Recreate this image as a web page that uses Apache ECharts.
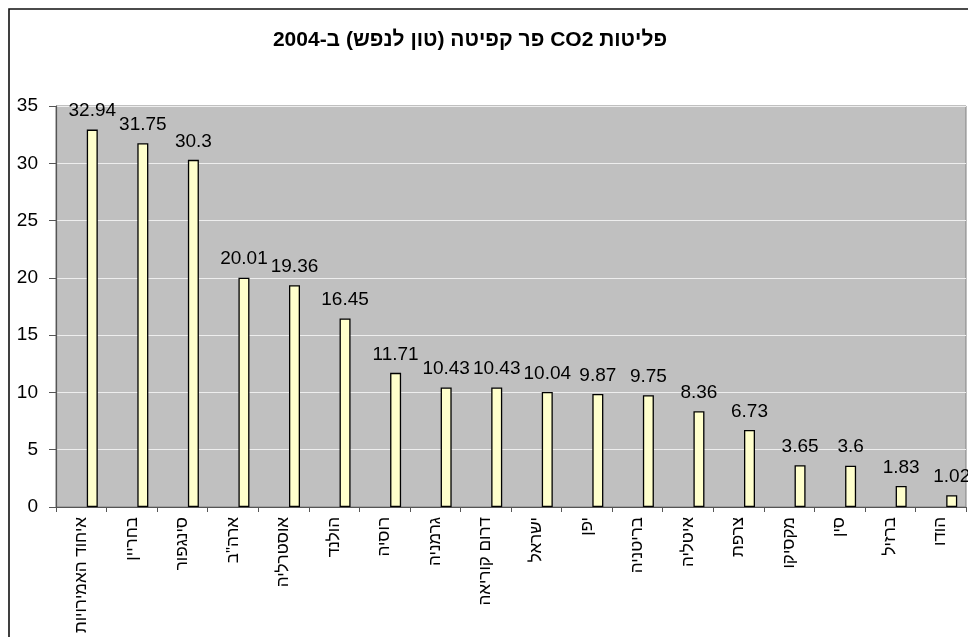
<!DOCTYPE html>
<html>
<head>
<meta charset="utf-8">
<script src="https://cdn.jsdelivr.net/npm/echarts@6/dist/echarts.min.js"></script>
<style>
html,body{margin:0;padding:0;background:#fff;}
#chart{width:968px;height:637px;direction:rtl;}
</style>
</head>
<body>
<div id="chart" dir="rtl"></div>
<script>
const titleText = 'פליטות CO2 פר קפיטה (טון לנפש) ב-2004';
const categories = ['איחוד האמירויות','בחריין','סינגפור','ארה"ב','אוסטרליה','הולנד','רוסיה','גרמניה','דרום קוריאה','ישראל','יפן','בריטניה','איטליה','צרפת','מקסיקו','סין','ברזיל','הודו'];
const values = [32.94,31.75,30.3,20.01,19.36,16.45,11.71,10.43,10.43,10.04,9.87,9.75,8.36,6.73,3.65,3.6,1.83,1.02];
const yMin = 0, yMax = 35, yStep = 5;

const chart = echarts.init(document.getElementById('chart'), null, {renderer:'canvas'});
const font = 'Arial, "Liberation Sans", sans-serif';
chart.setOption({
  animation:false,
  backgroundColor:'#ffffff',
  graphic:[
    {type:'rect', shape:{x:9, y:9, width:1000, height:700}, style:{fill:'none', stroke:'#111', lineWidth:1.6}, z:-1},
    {type:'text', x:470, y:40, style:{text:titleText, align:'center', verticalAlign:'middle', fontSize:21, fontWeight:'bold', fontFamily:font, fill:'#000'}}
  ],
  grid:{left:56, top:106, right:2, bottom:130, show:true, backgroundColor:'#c0c0c0', borderColor:'#808080', borderWidth:1},
  xAxis:{
    type:'category', data:categories,
    axisLine:{lineStyle:{color:'#555', width:1.2}},
    axisTick:{show:true, length:5, lineStyle:{color:'#555'}},
    axisLabel:{interval:0, rotate:90, margin:10, fontSize:17, fontFamily:font, color:'#000'}
  },
  yAxis:{
    type:'value', min:yMin, max:yMax, interval:yStep,
    axisLine:{show:true, lineStyle:{color:'#555', width:1.2}},
    axisTick:{show:true, length:7, lineStyle:{color:'#555'}},
    axisLabel:{margin:18, fontSize:19, fontFamily:font, color:'#000'},
    splitLine:{lineStyle:{color:'#eeeeee', width:1}}
  },
  series:[
    {type:'bar', name:'a', data:[], barWidth:11, barGap:'0%'},
    {type:'bar', name:'b', data:[], barWidth:11, barGap:'0%'},
    {type:'bar', name:'CO2', data:values, barWidth:11, barGap:'0%',
     itemStyle:{color:'#ffffcc', borderColor:'#000', borderWidth:1.3},
     label:{show:true, position:'top', distance:9, fontSize:19, fontFamily:font, color:'#000'}
    }
  ]
});
</script>
</body>
</html>
